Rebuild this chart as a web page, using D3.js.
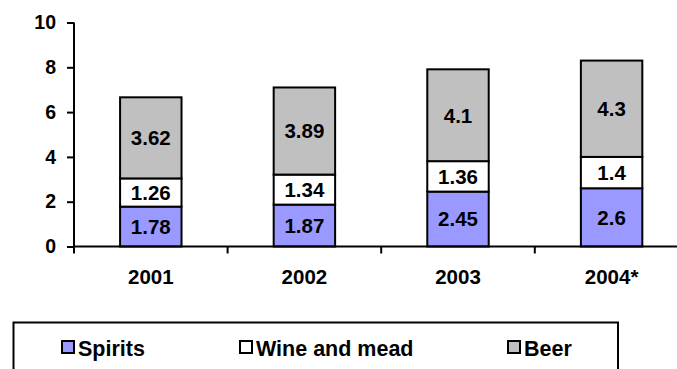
<!DOCTYPE html>
<html><head><meta charset="utf-8">
<script src="https://cdn.jsdelivr.net/npm/d3@7"></script>
<style>
html,body{margin:0;padding:0;background:#fff;}
svg{display:block;font-family:"Liberation Sans",Arial,sans-serif;font-weight:bold;}
svg text{font-family:"Liberation Sans",Arial,sans-serif;font-weight:bold;fill:#000;}
</style></head>
<body><svg id="c" width="677" height="369"></svg>
<script>
const categories = ["2001", "2002", "2003", "2004*"];
const seriesNames = ["Spirits", "Wine and mead", "Beer"];
const spirits = [1.78, 1.87, 2.45, 2.6];
const wine = [1.26, 1.34, 1.36, 1.4];
const beer = [3.62, 3.89, 4.1, 4.3];
const yTicks = [0, 2, 4, 6, 8, 10];
const colors = ["#9999FF", "#FFFFFF", "#C0C0C0"];

const svg = d3.select("#c");
const x = d3.scaleBand().domain(categories).range([74, 688.4]).paddingInner(0.6).paddingOuter(0.3);
const y = d3.scaleLinear().domain([0, 10]).range([246.5, 22.5]);

const rows = categories.map((c, i) => ({cat: c, Spirits: spirits[i], "Wine and mead": wine[i], Beer: beer[i]}));
const stacked = d3.stack().keys(seriesNames)(rows);

const g = svg.append("g");
stacked.forEach((layer, li) => {
  layer.forEach((d, i) => {
    g.append("rect")
      .attr("x", x(categories[i])).attr("y", y(d[1]))
      .attr("width", x.bandwidth()).attr("height", y(d[0]) - y(d[1]))
      .attr("fill", colors[li]).attr("stroke", "#000").attr("stroke-width", 2);
  });
});
stacked.forEach((layer, li) => {
  layer.forEach((d, i) => {
    g.append("text")
      .attr("x", x(categories[i]) + x.bandwidth() / 2)
      .attr("y", (y(d[0]) + y(d[1])) / 2)
      .attr("dy", "0.36em")
      .attr("text-anchor", "middle")
      .style("font-size", "20.5px")
      .text(d.data[seriesNames[li]]);
  });
});

// y axis
const yAxis = svg.append("g").attr("transform", "translate(74,0)")
  .call(d3.axisLeft(y).tickValues(yTicks).tickSize(7).tickPadding(11).tickFormat(d3.format("d")));
yAxis.attr("font-family", null).attr("font-size", null);
yAxis.select(".domain").attr("stroke", "#000").attr("stroke-width", 2).attr("d", "M0," + y(10) + "V" + y(0));
yAxis.selectAll(".tick line").attr("stroke", "#000").attr("stroke-width", 2);
yAxis.selectAll("text").style("font-size", "19.5px").attr("fill", "#000");

// x axis
const boundaries = d3.range(0, categories.length + 1).map(k => 74 + k * (688.4 - 74) / categories.length);
const xg = svg.append("g");
xg.append("line").attr("x1", 73).attr("x2", 688.4).attr("y1", y(0)).attr("y2", y(0)).attr("stroke", "#000").attr("stroke-width", 2);
boundaries.forEach(b => {
  xg.append("line").attr("x1", b).attr("x2", b).attr("y1", y(0)).attr("y2", y(0) + 7).attr("stroke", "#000").attr("stroke-width", 2);
});
categories.forEach(c => {
  xg.append("text").attr("x", x(c) + x.bandwidth() / 2).attr("y", 283.5)
    .attr("text-anchor", "middle").style("font-size", "20.5px").text(c);
});

// legend
const lg = svg.append("g");
lg.append("rect").attr("x", 13.5).attr("y", 322.5).attr("width", 604.5).attr("height", 80)
  .attr("fill", "none").attr("stroke", "#000").attr("stroke-width", 2);
const legX = [61, 239, 507];
seriesNames.forEach((s, i) => {
  lg.append("rect").attr("x", legX[i] + 1).attr("y", 341).attr("width", 12).attr("height", 12)
    .attr("fill", colors[i]).attr("stroke", "#000").attr("stroke-width", 2);
  lg.append("text").attr("x", legX[i] + 17).attr("y", 355.5).style("font-size", "21.5px").text(s);
});
</script></body></html>
